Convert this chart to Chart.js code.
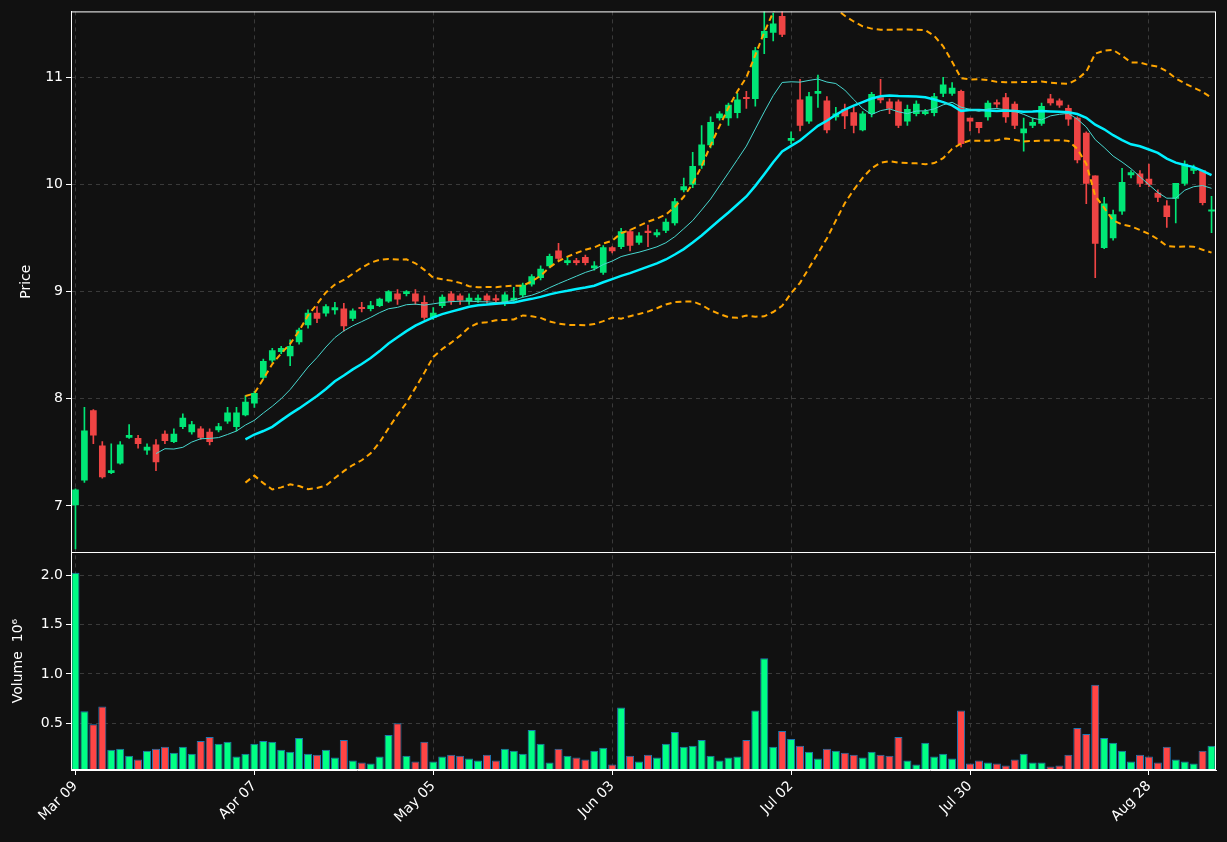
<!DOCTYPE html>
<html><head><meta charset="utf-8">
<script src="https://cdn.jsdelivr.net/npm/chart.js@4"></script>
<style>html,body{margin:0;background:#111111;}#w{width:1227px;height:842px;}</style>
</head><body><div id="w"><canvas id="c"></canvas></div>
<script>
const tickLabels=['Mar 09','Apr 07','May 05','Jun 03','Jul 02','Jul 30','Aug 28'];
const openP=[7.01,7.24,7.89,7.56,7.31,7.40,7.64,7.63,7.52,7.57,7.67,7.60,7.74,7.69,7.72,7.69,7.71,7.79,7.74,7.85,
7.96,8.20,8.36,8.44,8.40,8.53,8.69,8.80,8.80,8.83,8.84,8.75,8.85,8.84,8.87,8.91,8.98,8.98,8.98,8.90,
8.76,8.87,8.98,8.96,8.91,8.92,8.96,8.93,8.90,8.92,8.97,9.07,9.13,9.24,9.38,9.27,9.29,9.32,9.22,9.18,
9.41,9.42,9.56,9.46,9.56,9.53,9.57,9.64,9.95,10.00,10.18,10.37,10.62,10.62,10.67,10.81,10.80,11.37,11.42,11.57,
10.41,10.79,10.59,10.85,10.78,10.63,10.70,10.67,10.51,10.66,10.81,10.77,10.77,10.59,10.66,10.66,10.67,10.85,10.85,10.87,
10.62,10.58,10.63,10.76,10.81,10.75,10.48,10.55,10.57,10.80,10.78,10.71,10.62,10.48,10.08,9.41,9.50,9.75,10.09,10.10,
10.05,9.92,9.80,9.87,10.01,10.13,10.13,9.75];
const closeP=[7.15,7.70,7.66,7.27,7.33,7.57,7.66,7.58,7.55,7.41,7.61,7.67,7.82,7.76,7.64,7.60,7.74,7.87,7.87,7.97,
8.05,8.35,8.45,8.47,8.49,8.64,8.80,8.75,8.86,8.85,8.68,8.82,8.84,8.87,8.93,9.00,8.93,9.00,8.91,8.76,
8.80,8.95,8.91,8.92,8.94,8.94,8.92,8.92,8.97,8.94,9.06,9.14,9.21,9.33,9.31,9.29,9.27,9.27,9.24,9.41,
9.38,9.56,9.43,9.52,9.55,9.55,9.65,9.84,9.98,10.17,10.37,10.58,10.66,10.74,10.79,10.80,11.25,11.43,11.50,11.40,
10.43,10.55,10.82,10.87,10.51,10.66,10.64,10.55,10.66,10.84,10.79,10.71,10.55,10.70,10.75,10.68,10.82,10.93,10.90,10.38,
10.59,10.53,10.76,10.75,10.63,10.55,10.52,10.58,10.73,10.76,10.74,10.61,10.23,10.01,9.45,9.82,9.72,10.02,10.11,10.01,
10.00,9.88,9.70,10.01,10.19,10.15,9.83,9.76];
const highP=[7.16,7.92,7.90,7.60,7.58,7.60,7.76,7.66,7.58,7.62,7.70,7.72,7.86,7.79,7.74,7.72,7.77,7.92,7.92,8.03,
8.07,8.37,8.47,8.49,8.55,8.66,8.83,8.86,8.88,8.90,8.89,8.84,8.90,8.91,8.94,9.01,9.02,9.01,9.02,8.96,
8.85,8.97,9.00,8.98,8.98,8.97,8.98,8.97,8.99,9.04,9.08,9.16,9.24,9.35,9.45,9.32,9.31,9.34,9.28,9.43,
9.42,9.59,9.58,9.55,9.62,9.58,9.68,9.87,10.06,10.30,10.55,10.63,10.68,10.76,10.85,10.87,11.28,11.62,11.60,11.62,
10.49,10.98,10.86,11.02,10.82,10.72,10.75,10.72,10.68,10.86,10.98,10.80,10.79,10.74,10.78,10.70,10.85,11.00,10.95,10.88,
10.62,10.58,10.78,10.79,10.85,10.77,10.62,10.62,10.76,10.84,10.80,10.74,10.63,10.49,10.08,9.88,9.76,10.15,10.13,10.13,
10.19,9.95,9.85,10.01,10.22,10.18,10.13,9.89];
const lowP=[6.60,7.22,7.58,7.26,7.30,7.39,7.63,7.54,7.48,7.33,7.58,7.59,7.72,7.67,7.62,7.57,7.69,7.77,7.70,7.84,
7.92,8.18,8.34,8.42,8.31,8.51,8.66,8.71,8.77,8.79,8.63,8.73,8.81,8.82,8.86,8.90,8.88,8.96,8.88,8.74,
8.74,8.85,8.88,8.88,8.88,8.90,8.89,8.90,8.87,8.91,8.95,9.05,9.11,9.22,9.29,9.25,9.25,9.25,9.20,9.16,
9.36,9.40,9.38,9.44,9.42,9.51,9.55,9.62,9.93,9.97,10.15,10.34,10.60,10.55,10.62,10.71,10.73,11.22,11.34,11.38,
10.38,10.50,10.57,10.72,10.48,10.60,10.52,10.48,10.50,10.63,10.76,10.66,10.53,10.55,10.64,10.65,10.64,10.82,10.83,10.35,
10.50,10.48,10.60,10.72,10.58,10.52,10.31,10.53,10.55,10.74,10.72,10.55,10.20,9.82,9.13,9.40,9.48,9.72,10.06,9.98,
9.98,9.84,9.60,9.64,9.99,10.10,9.81,9.55];
const volume=[2.03,0.62,0.49,0.67,0.23,0.24,0.17,0.13,0.22,0.24,0.26,0.20,0.26,0.19,0.32,0.36,0.29,0.31,0.16,0.19,
0.29,0.32,0.31,0.23,0.21,0.35,0.19,0.18,0.23,0.15,0.33,0.12,0.10,0.09,0.16,0.38,0.50,0.17,0.11,0.31,
0.11,0.16,0.18,0.17,0.14,0.12,0.18,0.12,0.24,0.22,0.19,0.43,0.29,0.10,0.24,0.17,0.15,0.13,0.22,0.25,
0.08,0.66,0.17,0.11,0.18,0.15,0.29,0.41,0.26,0.27,0.33,0.17,0.12,0.15,0.16,0.33,0.63,1.16,0.26,0.42,
0.34,0.27,0.21,0.14,0.24,0.22,0.20,0.18,0.15,0.21,0.18,0.17,0.36,0.12,0.08,0.30,0.16,0.19,0.14,0.63,
0.09,0.12,0.10,0.09,0.07,0.13,0.19,0.10,0.10,0.06,0.07,0.18,0.45,0.39,0.89,0.35,0.30,0.22,0.11,0.18,
0.16,0.10,0.26,0.13,0.11,0.09,0.22,0.27];

const N=closeP.length;
const idx=[...Array(N).keys()];
function sma(p){return closeP.map((_,i)=>{if(i<p-1)return null;let s=0;for(let k=i-p+1;k<=i;k++)s+=closeP[k];return s/p;});}
function sd(p,m){return closeP.map((_,i)=>{if(i<p-1)return null;let s=0;for(let k=i-p+1;k<=i;k++)s+=(closeP[k]-m[i])**2;return Math.sqrt(s/p);});}
const ma10=sma(10), ma20=sma(20), sd20=sd(20,ma20);
const upper=ma20.map((m,i)=>m==null?null:m+2*sd20[i]);
const lower=ma20.map((m,i)=>m==null?null:m-2*sd20[i]);
const G='#00e676',R='#ef4444',VG='#00ff85',VR='#ff4545';
const up=idx.map(i=>closeP[i]>=openP[i]);
const frame={id:'frame',afterDraw(ch){const c=ch.ctx,a=ch.chartArea,y=ch.scales.y,v=ch.scales.yv;c.save();c.strokeStyle='#ffffff';c.lineWidth=1;
c.strokeRect(a.left+0.5,y.top+0.5,a.right-a.left-1,y.bottom-y.top);c.strokeRect(a.left+0.5,v.top+0.5,a.right-a.left-1,v.bottom-v.top-1);c.restore();}};
const F={family:'DejaVu Sans',size:14};
new Chart(document.getElementById('c'),{
 data:{labels:idx,datasets:[
  {type:'line',data:upper,yAxisID:'y',borderColor:'#ffa500',borderWidth:2,borderDash:[6,4],pointRadius:0,fill:false,order:1},
  {type:'line',data:lower,yAxisID:'y',borderColor:'#ffa500',borderWidth:2,borderDash:[6,4],pointRadius:0,fill:false,order:1},
  {type:'line',data:ma10,yAxisID:'y',borderColor:'#48d8d0',borderWidth:1,pointRadius:0,fill:false,order:1},
  {type:'line',data:ma20,yAxisID:'y',borderColor:'#00f0ff',borderWidth:2.5,pointRadius:0,fill:false,order:1},
  {type:'bar',data:idx.map(i=>[lowP[i],highP[i]]),yAxisID:'y',backgroundColor:idx.map(i=>up[i]?G:R),barThickness:1,grouped:false,order:3},
  {type:'bar',data:idx.map(i=>[openP[i],closeP[i]]),yAxisID:'y',backgroundColor:idx.map(i=>up[i]?G:R),barThickness:6,minBarLength:1.5,grouped:false,order:2},
  {type:'bar',data:volume,yAxisID:'yv',backgroundColor:idx.map(i=>up[i]?VG:VR),borderColor:'#1f77b4',borderWidth:1,barPercentage:0.9,categoryPercentage:1,grouped:false,order:2}
 ]},
 options:{responsive:true,maintainAspectRatio:false,animation:false,
  layout:{padding:{top:11,right:11,left:0,bottom:0}},
  plugins:{legend:{display:false},tooltip:{enabled:false}},
  scales:{
   x:{type:'category',offset:true,
    afterBuildTicks:(s)=>{s.ticks=s.ticks.filter(t=>t.value%20===0);},
    afterFit:(s)=>{s.height=72;},
    ticks:{color:'#ffffff',font:F,maxRotation:45,minRotation:45,autoSkip:false,callback:(v)=>tickLabels[v/20]},
    grid:{offset:false,color:'#3a3a3a',tickColor:'#ffffff',tickLength:5,drawTicks:true,tickBorderDash:[]},
    border:{color:'#ffffff',dash:[4,4]}},
   yv:{position:'left',stack:'p',stackWeight:1,min:0.024,max:2.24,offset:false,
    afterFit:(s)=>{s.width=71;},
    afterBuildTicks:(s)=>{s.ticks=[0.5,1.0,1.5,2.0].map(v=>({value:v}));},
    title:{display:true,text:'Volume  10⁶',color:'#ffffff',font:F,padding:{top:10,bottom:0}},
    ticks:{color:'#ffffff',font:F,callback:v=>v.toFixed(1)},
    grid:{color:'#3a3a3a',tickColor:'#ffffff',tickLength:5},border:{color:'#ffffff',dash:[4,4]}},
   y:{position:'left',stack:'p',stackWeight:2.48,min:6.57,max:11.615,
    afterFit:(s)=>{s.width=71;},
    afterBuildTicks:(s)=>{s.ticks=[7,8,9,10,11].map(v=>({value:v}));},
    title:{display:true,text:'Price',color:'#ffffff',font:F,padding:{top:18,bottom:0}},
    ticks:{color:'#ffffff',font:F,callback:v=>String(v)},
    grid:{color:'#3a3a3a',tickColor:'#ffffff',tickLength:5},border:{color:'#ffffff',dash:[4,4]}}
  }},
 plugins:[frame]
});
</script></body></html>
